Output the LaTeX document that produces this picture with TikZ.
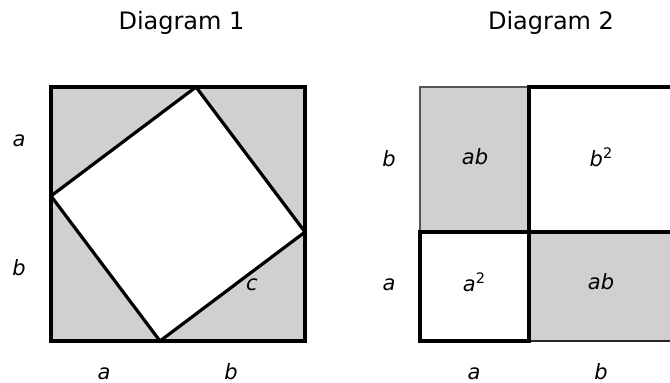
\documentclass[tikz,border=0pt]{standalone}
\usepackage{fontspec}
\setmainfont{DejaVu Sans}
\definecolor{shadegray}{HTML}{D0D0D0}
\definecolor{edgegray}{HTML}{555555}
\newcommand{\supnum}[1]{\raisebox{7.5pt}{\upshape\fontsize{14.5}{16}\selectfont #1}}
\begin{document}
\begin{tikzpicture}[x=1pt,y=-1pt,
  title/.style={font=\fontsize{24}{28}\selectfont, inner sep=0pt},
  lbl/.style={font=\fontsize{21}{25}\selectfont\itshape, inner sep=0pt, anchor=base},
  thickline/.style={line width=3.2pt, line join=miter},
  thinline/.style={line width=1.3pt, draw=edgegray}]
\useasboundingbox (0,0) rectangle (670,383);
\clip (0,0) rectangle (670,383);
% ---------- Diagram 1 ----------
\node[title] (t1) at (181.5,23) {Diagram 1};
\draw[thickline, fill=shadegray] (51,87) rectangle (305,341);
\coordinate (p1) at (196,87);
\coordinate (p2) at (305,232);
\coordinate (p3) at (160,341);
\coordinate (p4) at (51,196);
\draw[thickline, fill=white] (p1) -- (p2) -- (p3) -- (p4) -- cycle;
\node[lbl] (la1) at (19,146) {a};
\node[lbl] (lb1) at (19,275) {b};
\node[lbl] (ba1) at (104,379) {a};
\node[lbl] (bb1) at (231,379) {b};
\node[lbl] (lc1) at (252,290) {c};
% ---------- Diagram 2 ----------
\node[title] (t2) at (551,23) {Diagram 2};
\fill[shadegray] (420,87) rectangle (529,232);
\draw[thinline] (420,232) -- (420,87) -- (529,87);
\fill[shadegray] (529,232) rectangle (674,341);
\draw[line width=2pt, black!85] (529,341) -- (674,341);
\draw[thickline, fill=white] (529,87) rectangle (674,232);
\draw[thickline, fill=white] (420,232) rectangle (529,341);
\node[lbl] (lb2) at (389,166) {b};
\node[lbl] (la2) at (389,290) {a};
\node[lbl] (ab1) at (475,164) {ab};
\node[lbl] (bsq) at (601,166) {b\supnum{2}};
\node[lbl] (asq) at (474,291) {a\supnum{2}};
\node[lbl] (ab2) at (601,289) {ab};
\node[lbl] (ba2) at (474,379) {a};
\node[lbl] (bb2) at (601,379) {b};
\end{tikzpicture}
\end{document}
